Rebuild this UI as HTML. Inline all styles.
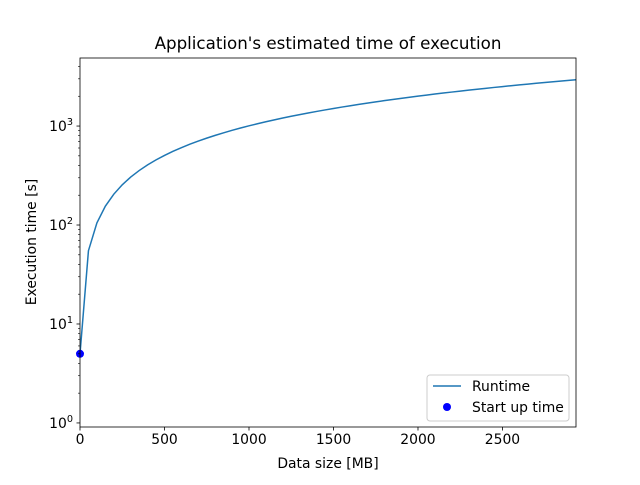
<!DOCTYPE html>
<html><head><meta charset="utf-8"><style>
body{margin:0;background:#fff}
svg text{font-family:"DejaVu Sans","Liberation Sans",sans-serif;fill:#000}
</style></head><body>
<svg id="chart" width="640" height="480" viewBox="0 0 640 480">
<rect width="640" height="480" fill="#fff"/>
<g id="g"></g>
</svg>
<script>
const sizes=[0,50,100,150,200,250,300,350,400,450,500,550,600,650,700,750,800,850,900,950,1000,1050,1100,1150,1200,1250,1300,1350,1400,1450,1500,1550,1600,1650,1700,1750,1800,1850,1900,1950,2000,2050,2100,2150,2200,2250,2300,2350,2400,2450,2500,2550,2600,2650,2700,2750,2800,2850,2900,2950];
const runtimes=[5,55,105,155,205,255,305,355,405,455,505,555,605,655,705,755,805,855,905,955,1005,1055,1105,1155,1205,1255,1305,1355,1405,1455,1505,1555,1605,1655,1705,1755,1805,1855,1905,1955,2005,2055,2105,2155,2205,2255,2305,2355,2405,2455,2505,2555,2605,2655,2705,2755,2805,2855,2905,2955];
const startX=[0];
const startY=[5];
const xTicks=[0,500,1000,1500,2000,2500];
const yTickExps=[0,1,2,3];

const L=80,R=576,T=58,B=427;
const xmin=0,xmax=2935,ylmin=Math.log10(0.91),ylmax=Math.log10(4870);
const sx=v=>L+(v-xmin)/(xmax-xmin)*(R-L);
const sy=v=>B-(Math.log10(v)-ylmin)/(ylmax-ylmin)*(B-T);
const NS="http://www.w3.org/2000/svg";
const g=document.getElementById('g');
function mk(tag,attrs,parent){const e=document.createElementNS(NS,tag);for(const k in attrs)e.setAttribute(k,attrs[k]);(parent||g).appendChild(e);return e;}

// clip
const defs=mk('defs',{});const cp=mk('clipPath',{id:'clip'},defs);mk('rect',{x:L,y:T,width:R-L,height:B-T},cp);

// series line
let d='';sizes.forEach((s,i)=>{d+=(i?'L':'M')+sx(s).toFixed(2)+','+sy(runtimes[i]).toFixed(2);});
const line=mk('path',{d:d,fill:'none',stroke:'#1f77b4','stroke-width':1.5,'clip-path':'url(#clip)'});



startX.forEach((x,i)=>{
 const c=mk('circle',{cx:sx(x),cy:sy(startY[i]),r:4,fill:'#0000ff'});
 
 
});

// frame
const fr=mk('rect',{x:L,y:T,width:R-L,height:B-T,fill:'none',stroke:'#000','stroke-width':0.8});



// x ticks
xTicks.forEach(v=>{
 const x=sx(v);
 mk('line',{x1:x,x2:x,y1:B,y2:B+3.5,stroke:'#000','stroke-width':0.8});
 const t=mk('text',{x:x,y:B+17,'text-anchor':'middle','font-size':13.9});
 t.textContent=v;
 
 
});
// y ticks
yTickExps.forEach(e=>{
 const y=sy(Math.pow(10,e));
 mk('line',{x1:L-3.5,x2:L,y1:y,y2:y,stroke:'#000','stroke-width':0.8});
 const t=mk('text',{x:L-7,y:y+5,'text-anchor':'end','font-size':13.9});
 const a=document.createElementNS(NS,'tspan');a.textContent='10';t.appendChild(a);
 const b=document.createElementNS(NS,'tspan');b.setAttribute('dy','-6');b.setAttribute('font-size','9.7');b.textContent=e;t.appendChild(b);
 
 
});
for(let e=-1;e<=3;e++)for(let m=2;m<=9;m++){
 const v=m*Math.pow(10,e);const y=sy(v);
 if(y<T||y>B)continue;
 mk('line',{x1:L-2,x2:L,y1:y,y2:y,stroke:'#000','stroke-width':0.6});
}

// labels
let t=mk('text',{x:(L+R)/2,y:49,'text-anchor':'middle','font-size':16.7});t.textContent="Application's estimated time of execution";


t=mk('text',{x:(L+R)/2,y:468,'text-anchor':'middle','font-size':13.9});t.textContent='Data size [MB]';


t=mk('text',{x:0,y:0,'text-anchor':'middle','font-size':13.9,transform:'translate(36,242) rotate(-90)'});t.textContent='Execution time [s]';



// legend
const lg=mk('g',{});


mk('rect',{x:427,y:375,width:142,height:46,rx:3,fill:'#fff','fill-opacity':0.8,stroke:'#ccc','stroke-width':1},lg);
mk('line',{x1:433,x2:461,y1:386,y2:386,stroke:'#1f77b4','stroke-width':1.5},lg);
t=mk('text',{x:472,y:391,'font-size':13.9},lg);t.textContent='Runtime';


mk('circle',{cx:447,cy:407,r:4,fill:'#0000ff'},lg);
t=mk('text',{x:472,y:412,'font-size':13.9},lg);t.textContent='Start up time';


</script>
</body></html>
